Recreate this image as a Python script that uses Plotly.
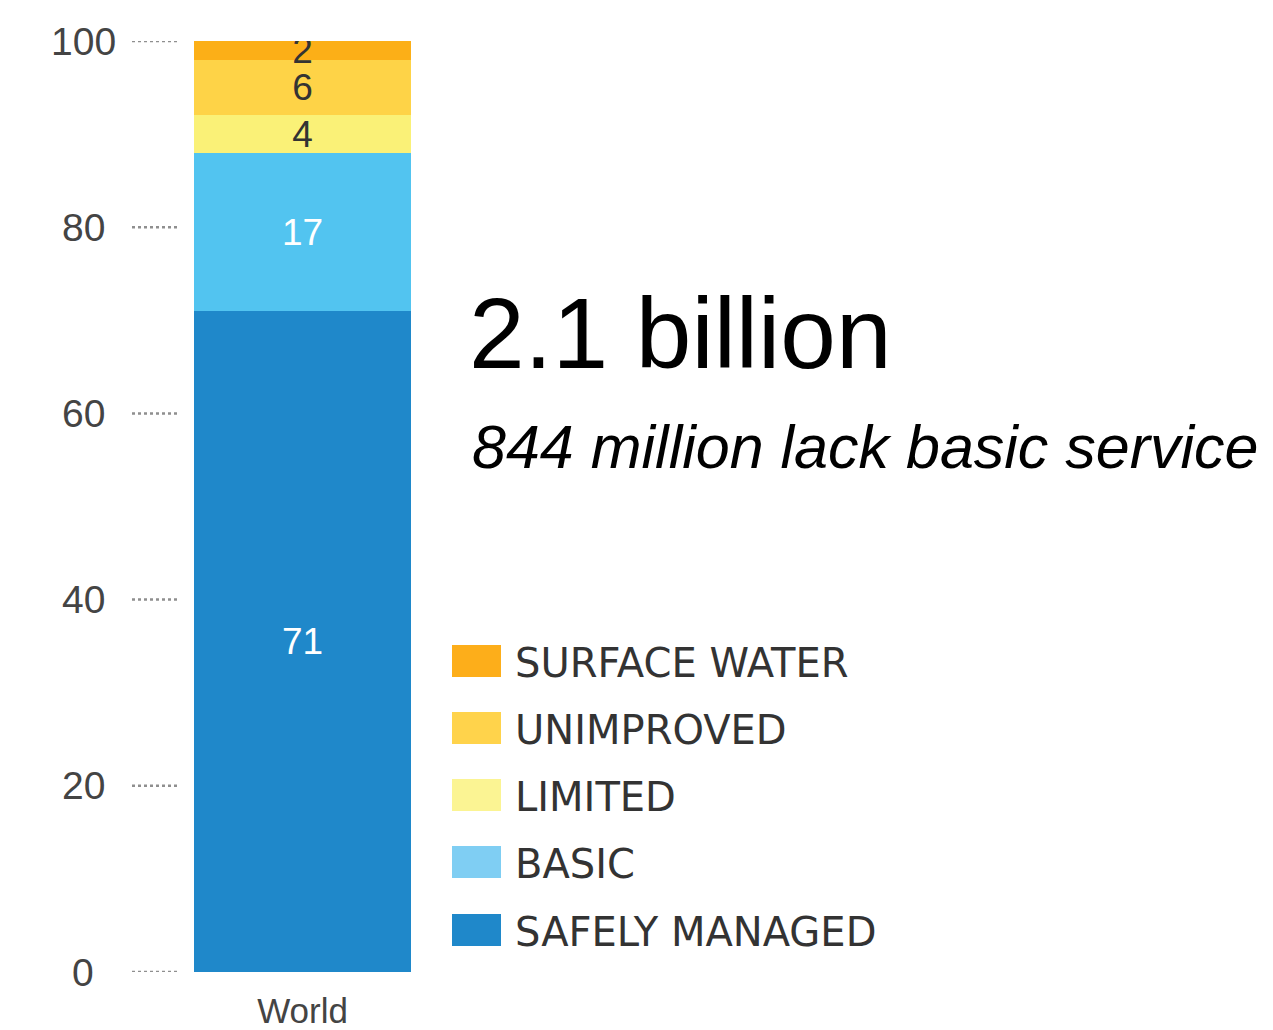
import plotly.graph_objects as go

# ---- data ----
categories = ["SAFELY MANAGED", "BASIC", "LIMITED", "UNIMPROVED", "SURFACE WATER"]
values = [71, 17, 4, 6, 2]
bar_colors = ["#1F88CA", "#52C4F0", "#FAF177", "#FED347", "#FCAF17"]
legend_colors = ["#1F88CA", "#7FCEF3", "#FBF493", "#FFD34B", "#FDAE1A"]
label_colors = ["white", "white", "#333333", "#333333", "#333333"]
region = ["World"]
y_ticks = [0, 20, 40, 60, 80, 100]
headline = "2.1 billion"
subline = "844 million lack basic service"

OFF = 8  # page body margin of the browser
W, H = 1273 - OFF, 1030 - OFF
T, B = 41 - OFF, 58
PLOT_H = H - T - B


def py(px):
    """screenshot pixel row -> paper y"""
    return (H - B - (px - OFF)) / PLOT_H


def px_x(px):
    """screenshot pixel column -> paper x (margins l=r=0)"""
    return (px - OFF) / W


CX = 302.5 - OFF   # bar centre in figure pixels
UNIT = 217         # bar width in pixels


def dx(px):
    """screenshot pixel column -> data x"""
    return (px - OFF - CX) / UNIT


fig = go.Figure()
for cat, v, c, lc in zip(categories, values, bar_colors, label_colors):
    fig.add_trace(go.Bar(
        x=[0], y=[v], name=cat, width=1,
        marker=dict(color=c, line=dict(width=0)),
        text=[str(v)], textposition="inside", insidetextanchor="middle",
        constraintext="none", textangle=0,
        textfont=dict(family="Liberation Sans", size=37, color=lc),
        showlegend=False, hoverinfo="name+y",
    ))

x0 = -CX / UNIT
x1 = (W - CX) / UNIT

annotations = []
shapes = []
for t in y_ticks:
    annotations.append(dict(
        x=dx(83), y=t, xref="x", yref="y", text=str(t),
        showarrow=False, xanchor="center", yanchor="middle",
        font=dict(family="Liberation Sans", size=39, color="#444444"),
    ))
    shapes.append(dict(
        type="line", xref="x", yref="y",
        x0=dx(132), x1=dx(180), y0=t, y1=t,
        line=dict(color="#8f8f8f", width=2.5, dash="dot"),
    ))

annotations.append(dict(
    x=px_x(467), y=py(333), xref="paper", yref="paper", text=headline,
    showarrow=False, xanchor="left", yanchor="middle",
    font=dict(family="Liberation Sans", size=100, color="black"),
))
annotations.append(dict(
    x=px_x(470), y=py(447), xref="paper", yref="paper", text=subline,
    showarrow=False, xanchor="left", yanchor="middle",
    font=dict(family="Liberation Sans", size=61, color="black", style="italic"),
))

# custom legend (top to bottom: surface water ... safely managed)
row_y = [930, 862, 795, 728, 661]
for cat, c, ry in zip(categories, legend_colors, row_y):
    shapes.append(dict(
        type="rect", xref="paper", yref="paper",
        x0=px_x(452), x1=px_x(501), y0=py(ry + 16), y1=py(ry - 16),
        fillcolor=c, line=dict(width=0),
    ))
    annotations.append(dict(
        x=px_x(513), y=py(ry + 2), xref="paper", yref="paper", text=cat,
        showarrow=False, xanchor="left", yanchor="middle",
        font=dict(family="DejaVu Sans", size=40, color="#333333"),
    ))

fig.update_layout(
    width=W, height=H,
    margin=dict(l=0, r=0, t=T, b=B),
    barmode="stack", bargap=0,
    plot_bgcolor="white", paper_bgcolor="white",
    showlegend=False,
    annotations=annotations, shapes=shapes,
    xaxis=dict(range=[x0, x1], tickvals=[0], ticktext=region,
               showgrid=False, zeroline=False, showline=False, ticks="",
               tickfont=dict(family="Liberation Sans", size=35, color="#444444"),
               ticklabelstandoff=15, fixedrange=True),
    yaxis=dict(range=[0, 100], showgrid=False, zeroline=False, showline=False,
               showticklabels=False, ticks="", fixedrange=True),
)

fig.write_html("out.html")
